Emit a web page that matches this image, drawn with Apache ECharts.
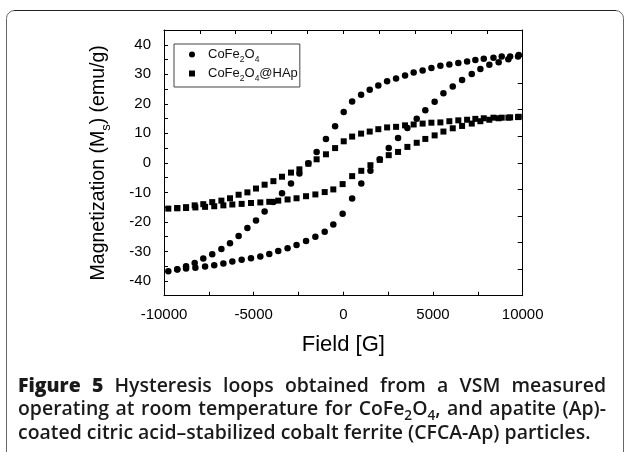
<!DOCTYPE html>
<html><head><meta charset="utf-8">
<script src="https://cdn.jsdelivr.net/npm/echarts@6/dist/echarts.min.js"></script>
<style>html,body{margin:0;padding:0;background:#fff}#c{width:625px;height:452px}</style>
</head><body><div id="c"></div>
<script>
// ---- Data ----
// CoFe2O4, descending-field branch
const coDescField = [9780,9300,8830,8370,7830,7360,6900,6410,5910,5410,4910,4420,3920,3440,2940,2440,1950,1470,990,490,20,-460,-970,-1490,-1950,-2450,-2920,-3420,-3900,-4390,-4870,-5350,-5840,-6320,-6800,-7310,-7810,-8290,-8770,-9260,-9760];
const coDescMag = [36.5,36.0,36.0,35.6,35.3,34.8,34.3,33.8,33.3,32.9,32.1,31.3,30.6,29.6,28.6,27.6,26.2,24.8,23.1,20.8,17.2,12.4,8.1,3.7,-0.1,-3.6,-7.0,-10.3,-13.3,-16.5,-19.5,-22.1,-24.8,-27.2,-29.2,-31.0,-32.4,-33.9,-35.0,-36.0,-36.7];
// CoFe2O4, ascending-field branch
const coAscField = [-9260,-8770,-8250,-7710,-7200,-6690,-6190,-5670,-5150,-4630,-4130,-3630,-3110,-2610,-2080,-1560,-1040,-560,-40,490,1000,1510,2030,2530,3050,3570,4090,4570,5090,5580,6100,6620,7160,7640,8140,8660,9200,9740];
const coAscMag = [-36.1,-35.8,-35.5,-35.1,-34.7,-34.1,-33.4,-32.8,-32.3,-31.7,-30.9,-29.9,-28.9,-27.8,-26.5,-25.0,-23.3,-20.9,-17.2,-12.1,-7.0,-2.7,1.2,5.0,8.4,11.8,14.9,17.8,20.7,23.6,25.9,28.1,30.1,31.8,33.2,34.1,35.1,36.0];
// CoFe2O4@HAp, descending-field branch
const hapDescField = [9780,9300,8830,8370,7830,7360,6900,6410,5910,5410,4910,4420,3920,3440,2940,2440,1950,1470,990,490,20,-460,-970,-1490,-1950,-2450,-2920,-3420,-3900,-4390,-4870,-5350,-5840,-6320,-6800,-7310,-7810,-8290,-8770,-9260,-9760];
const hapDescMag = [15.6,15.4,15.3,15.3,15.1,14.9,14.6,14.4,14.1,13.7,13.6,13.3,13.0,12.7,12.2,12.0,11.4,10.6,9.9,8.9,7.3,5.0,2.9,1.2,-0.3,-2.2,-3.3,-4.7,-6.2,-7.4,-8.7,-10.0,-10.8,-12.0,-12.8,-13.3,-14.0,-14.4,-15.0,-15.3,-15.5];
// CoFe2O4@HAp, ascending-field branch
const hapAscField = [-9260,-8770,-8250,-7710,-7200,-6690,-6190,-5670,-5150,-4630,-4130,-3630,-3110,-2610,-2080,-1560,-1040,-560,-40,490,1000,1510,2030,2530,3050,3570,4090,4570,5090,5580,6100,6620,7160,7640,8140,8660,9200,9740];
const hapAscMag = [-15.4,-15.3,-15.1,-14.9,-14.7,-14.4,-14.1,-13.9,-13.6,-13.4,-13.2,-12.8,-12.4,-12.0,-11.3,-10.7,-9.9,-9.0,-7.2,-4.5,-2.7,-0.8,1.0,2.6,3.7,5.4,6.8,8.1,9.3,10.6,11.7,12.5,13.3,14.1,14.6,15.1,15.3,15.5];

const seriesNames = ['CoFe2O4', 'CoFe2O4@HAp'];
const legendLabels = ['CoFe{sub|2}O{sub|4}', 'CoFe{sub|2}O{sub|4}@HAp'];
const xTickLabels = [-10000, -5000, 0, 5000, 10000];
const yTickLabels = [-40, -30, -20, -10, 0, 10, 20, 30, 40];
const xTitle = 'Field [G]';
const yTitle = 'Magnetization (M{s|s}) (emu/g)';
const captionLines = [
  {words: ['Figure', '5', 'Hysteresis', 'loops', 'obtained', 'from', 'a', 'VSM', 'measured'], justify: true, heavy: 2},
  {words: ['operating', 'at', 'room', 'temperature', 'for', 'CoFe{sub|2}O{sub|4},', 'and', 'apatite', '(Ap)-'], justify: true, heavy: 0},
  {words: ['coated', 'citric', 'acid\u2013stabilized', 'cobalt', 'ferrite', '(CFCA-Ap)', 'particles.'], justify: false, heavy: 0}
];

function zip(a, b) { return a.map((v, i) => [v, b[i]]); }

// ---- caption layout helpers ----
const capFamily = '"Open Sans", "Noto Sans", sans-serif';
const mctx = document.createElement('canvas').getContext('2d');
function mw(t, weight, size) { mctx.font = weight + ' ' + size + 'px ' + capFamily; return mctx.measureText(t).width; }
function wordWidth(w, weight, size) {
  const subSize = size * 0.7;
  let total = 0;
  const re = /\{sub\|([^}]*)\}/g; let last = 0, m;
  while ((m = re.exec(w)) !== null) {
    total += mw(w.slice(last, m.index), weight, size);
    total += mw(m[1], weight, subSize);
    last = re.lastIndex;
  }
  total += mw(w.slice(last), weight, size);
  return total;
}
const capX0 = 18, capX1 = 606, capLastEnd = 591;
// choose the font size so that the un-justified last line ends where it does in the reference
const lastLine = captionLines[2].words;
const baseW = lastLine.reduce((a, w) => a + wordWidth(w, 600, 20), 0) + mw(' ', 600, 20) * (lastLine.length - 1);
const capSize = 20 * (capLastEnd - capX0) / baseW;
const capSubSize = capSize * 0.7;
const capY = [386, 409.5, 433];
const captionEls = [];
captionLines.forEach((line, li) => {
  const weights = line.words.map((w, i) => i < line.heavy ? 800 : 600);
  const widths = line.words.map((w, i) => wordWidth(w, weights[i], capSize));
  const sum = widths.reduce((a, b) => a + b, 0);
  const gap = line.justify ? (capX1 - capX0 - sum) / (line.words.length - 1) : mw(' ', 600, capSize);
  let x = capX0;
  line.words.forEach((w, i) => {
    captionEls.push({
      type: 'text', x: x, y: capY[li], silent: true,
      style: {
        text: w, fill: '#1a1a1a', fontFamily: capFamily, fontSize: capSize, fontWeight: weights[i],
        verticalAlign: 'middle', align: 'left',
        rich: {sub: {fontSize: capSubSize, fontWeight: weights[i], fontFamily: capFamily, fill: '#1a1a1a', height: 5, verticalAlign: 'bottom'}}
      }
    });
    x += widths[i] + gap;
  });
});

const axisFont = '"Liberation Sans", Arial, sans-serif';
const chart = echarts.init(document.getElementById('c'), null, {renderer: 'canvas'});
const tickCol = '#000';
chart.setOption({
  animation: false,
  backgroundColor: '#fff',
  grid: {left: 164, top: 30, width: 358.7, height: 265.7, show: false, containLabel: false},
  legend: {
    orient: 'vertical', left: 174, top: 44,
    padding: [4, 2, 4, 15], itemGap: 3, itemWidth: 22, itemHeight: 6,
    symbolKeepAspect: true,
    borderColor: '#444', borderWidth: 1,
    data: [{name: seriesNames[0], icon: 'circle'}, {name: seriesNames[1], icon: 'path://M0,0L10,0L10,10L0,10Z'}],
    formatter: n => legendLabels[seriesNames.indexOf(n)],
    textStyle: {
      fontSize: 13, fontFamily: axisFont, color: '#111',
      rich: {sub: {fontSize: 8.5, fontFamily: axisFont, color: '#111', height: 3, verticalAlign: 'bottom'}}
    }
  },
  xAxis: [{
    type: 'value', min: -10000, max: 10000, interval: 5000, position: 'bottom',
    axisLine: {show: true, onZero: false, lineStyle: {color: tickCol, width: 1}},
    axisTick: {show: true, inside: true, length: 4, lineStyle: {color: tickCol}},
    minorTick: {show: true, splitNumber: 2, length: 4, lineStyle: {color: tickCol}},
    splitLine: {show: false}, minorSplitLine: {show: false},
    axisLabel: {margin: 12, fontSize: 15, color: '#000', fontFamily: axisFont,
      formatter: v => xTickLabels.indexOf(v) >= 0 ? String(v) : ''},
    name: xTitle, nameLocation: 'middle', nameGap: 38,
    nameTextStyle: {fontSize: 22, fontFamily: axisFont, color: '#000'}
  }, {
    type: 'value', min: -10000, max: 10000, interval: 2000, position: 'top',
    axisLine: {show: true, onZero: false, lineStyle: {color: tickCol, width: 1}},
    axisTick: {show: true, inside: true, length: 4, lineStyle: {color: tickCol}},
    axisLabel: {show: false}, splitLine: {show: false}
  }],
  yAxis: [{
    type: 'value', min: -45, max: 45, interval: 5, position: 'left',
    axisLine: {show: true, onZero: false, lineStyle: {color: tickCol, width: 1}},
    axisTick: {show: true, inside: true, length: 4, lineStyle: {color: tickCol}},
    splitLine: {show: false},
    axisLabel: {margin: 13, fontSize: 15, color: '#000', fontFamily: axisFont,
      formatter: v => yTickLabels.indexOf(v) >= 0 ? String(v) : ''},
    name: yTitle, nameLocation: 'middle', nameGap: 55, nameRotate: 90,
    nameTextStyle: {fontSize: 19.5, fontFamily: axisFont, color: '#000',
      rich: {s: {fontSize: 13, fontFamily: axisFont, color: '#000', height: 5, verticalAlign: 'bottom'}}}
  }, {
    type: 'value', min: -45, max: 45, interval: 9, position: 'right',
    axisLine: {show: true, onZero: false, lineStyle: {color: tickCol, width: 1}},
    axisTick: {show: true, inside: true, length: 5, lineStyle: {color: tickCol}},
    axisLabel: {show: false}, splitLine: {show: false}
  }],
  series: [{
    name: seriesNames[0], type: 'scatter', xAxisIndex: 0, yAxisIndex: 0,
    symbol: 'circle', symbolSize: 6.5, itemStyle: {color: '#000', opacity: 1},
    data: zip(coDescField, coDescMag).concat(zip(coAscField, coAscMag))
  }, {
    name: seriesNames[1], type: 'scatter', xAxisIndex: 0, yAxisIndex: 0,
    symbol: 'rect', symbolSize: 6, itemStyle: {color: '#000', opacity: 1},
    data: zip(hapDescField, hapDescMag).concat(zip(hapAscField, hapAscMag))
  }],
  graphic: {elements: [
    {type: 'rect', silent: true, shape: {x: 6.5, y: 10.5, width: 617, height: 600, r: [8, 8, 0, 0]},
     style: {fill: 'none', stroke: '#666', lineWidth: 1}},
    {type: 'line', silent: true, shape: {x1: 14, y1: 10.5, x2: 616, y2: 10.5},
     style: {stroke: '#222', lineWidth: 1}}
  ].concat(captionEls)}
});
</script>
</body></html>
